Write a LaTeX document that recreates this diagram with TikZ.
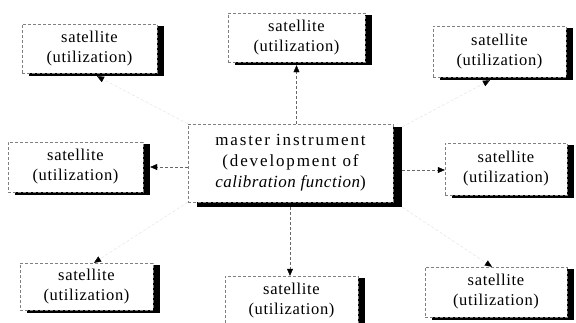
\documentclass[tikz,border=0pt]{standalone}
\usepackage{fontspec}
\setmainfont{Liberation Serif}
\usetikzlibrary{arrows.meta,calc,backgrounds}
\begin{document}
\begin{tikzpicture}[x=1pt,y=-1pt,
  sat/.style={draw=black!50, densely dashed, line width=0.4pt, fill=white,
    align=center, inner sep=0pt, font=\fontsize{16.5}{20}\selectfont\addfontfeatures{LetterSpace=4}},
  master/.style={sat, font=\fontsize{17}{21}\selectfont\addfontfeatures{LetterSpace=11}},
  shadowfill/.style={fill=black, draw=none},
  tip/.style={-{Triangle[length=7pt,width=6pt,fill=black,color=black]}},
  conn/.style={draw=black!60, line width=0.4pt, dash pattern=on 3pt off 2pt, tip},
  faint/.style={conn, draw=black!12}]
\useasboundingbox (0,0) rectangle (576,322);
\begin{scope}
\clip (0,0) rectangle (576,322);
\node[sat, minimum width=135pt, minimum height=49pt] (tl) at (89.5,48.5) {satellite\\(utilization)};
\node[sat, minimum width=137pt, minimum height=49pt] (tc) at (296.5,37.5) {satellite\\(utilization)};
\node[sat, minimum width=133pt, minimum height=51pt] (tr) at (499.5,51.5) {satellite\\(utilization)};
\node[sat, minimum width=135pt, minimum height=50pt] (ml) at (75.5,167) {satellite\\(utilization)};
\node[master, minimum width=205pt, minimum height=78pt] (m) at (290.5,163)
  {master instrument\\(development of\\{\addfontfeatures{LetterSpace=3}\itshape calibration function})};
\node[sat, minimum width=122pt, minimum height=52pt] (mr) at (506,169) {satellite\\(utilization)};
\node[sat, minimum width=133pt, minimum height=47pt] (bl) at (86.5,286.5) {satellite\\(utilization)};
\node[sat, minimum width=133pt, minimum height=50pt] (bc) at (291.5,301) {satellite\\(utilization)};
\node[sat, minimum width=142pt, minimum height=50pt] (br) at (496,292) {satellite\\(utilization)};
\begin{pgfonlayer}{background}
\foreach \n in {tl,tc,tr,ml,mr,bl,bc,br}
  \fill[shadowfill] ($(\n.north west)+(7,2)$) rectangle ($(\n.south east)+(7,3)$);
\fill[shadowfill] ($(m.north west)+(9,3)$) rectangle ($(m.south east)+(9,5)$);
\end{pgfonlayer}
\coordinate (tcend) at ($(tc.south)+(0,3)$);
\coordinate (mlend) at ($(ml.east |- 0,167)+(7,0)$);
\coordinate (tlend) at ($(tl.south -| 97,0)+(0,3)$);
\coordinate (trend) at ($(tr.south -| 490,0)+(0,3)$);
\coordinate (blend) at (bl.north -| 94,0);
\coordinate (brend) at (br.north -| 492,0);
\draw[conn] (m.north -| tc.south) -- (tcend);
\draw[conn] (m.west |- 0,167) -- (mlend);
\draw[conn] ($(m.east |- 0,170)+(9,0)$) -- (mr.west |- 0,170);
\draw[conn] ($(m.south -| 290,0)+(0,5)$) -- (bc.north -| 290,0);
\draw[faint] (m.north west) -- (tlend);
\draw[faint] ($(m.north east)+(9,3)$) -- (trend);
\draw[faint] (m.south west) -- (blend);
\draw[faint] ($(m.south east)+(9,5)$) -- (brend);
\end{scope}
\end{tikzpicture}
\end{document}
